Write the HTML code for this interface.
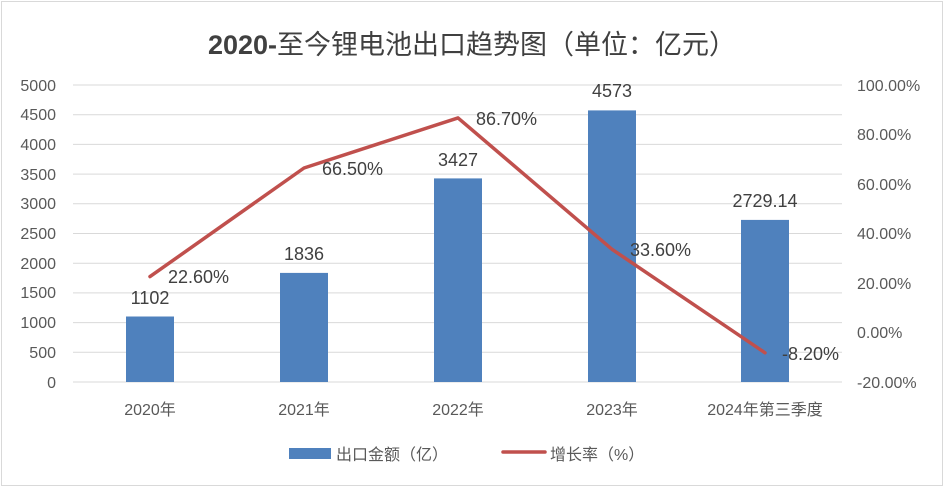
<!DOCTYPE html>
<html><head><meta charset="utf-8"><style>
html,body{margin:0;padding:0;background:#fff;}
svg{display:block;}
text{font-family:"Liberation Sans","Noto Sans CJK SC",sans-serif;}
</style></head><body>
<svg width="945" height="488" viewBox="0 0 945 488" xmlns="http://www.w3.org/2000/svg">
<rect x="1.5" y="1.5" width="941" height="484" fill="#fff" stroke="#d9d9d9" stroke-width="1"/>
<text x="472" y="54" text-anchor="middle" font-size="27" fill="#404040"><tspan font-weight="bold">2020-</tspan>至今锂电池出口趋势图（单位：亿元）</text>
<g stroke="#d9d9d9" stroke-width="1">
<line x1="73" x2="842" y1="85" y2="85"/>
<line x1="73" x2="842" y1="114.7" y2="114.7"/>
<line x1="73" x2="842" y1="144.4" y2="144.4"/>
<line x1="73" x2="842" y1="174.1" y2="174.1"/>
<line x1="73" x2="842" y1="203.8" y2="203.8"/>
<line x1="73" x2="842" y1="233.5" y2="233.5"/>
<line x1="73" x2="842" y1="263.2" y2="263.2"/>
<line x1="73" x2="842" y1="292.9" y2="292.9"/>
<line x1="73" x2="842" y1="322.6" y2="322.6"/>
<line x1="73" x2="842" y1="352.3" y2="352.3"/>
<line x1="73" x2="842" y1="382" y2="382"/>
</g>
<g font-size="16" fill="#595959" text-anchor="end">
<text x="56" y="91">5000</text><text x="56" y="120">4500</text><text x="56" y="150">4000</text>
<text x="56" y="180">3500</text><text x="56" y="209">3000</text><text x="56" y="239">2500</text>
<text x="56" y="269">2000</text><text x="56" y="298">1500</text><text x="56" y="328">1000</text>
<text x="56" y="358">500</text><text x="56" y="388">0</text>
</g>
<g font-size="16" fill="#595959" text-anchor="start">
<text x="857" y="91">100.00%</text><text x="857" y="140">80.00%</text><text x="857" y="190">60.00%</text>
<text x="857" y="239">40.00%</text><text x="857" y="289">20.00%</text><text x="857" y="338">0.00%</text>
<text x="857" y="388">-20.00%</text>
</g>
<g fill="#4f81bd">
<rect x="126" y="316.5" width="48" height="65.5"/>
<rect x="280" y="272.9" width="48" height="109.1"/>
<rect x="434" y="178.4" width="48" height="203.6"/>
<rect x="588" y="110.4" width="48" height="271.6"/>
<rect x="741" y="219.9" width="48" height="162.1"/>
</g>
<polyline points="150,276.6 304,168 458,117.9 612,249.3 765,352.8" fill="none" stroke="#c0504d" stroke-width="3.5" stroke-linejoin="round" stroke-linecap="round"/>
<g font-size="18" fill="#404040" text-anchor="middle">
<text x="150" y="304">1102</text><text x="304" y="260">1836</text><text x="458" y="166">3427</text>
<text x="612" y="97">4573</text><text x="765" y="207">2729.14</text>
</g>
<g font-size="18" fill="#404040">
<text x="168" y="283">22.60%</text><text x="322" y="175">66.50%</text><text x="476" y="125">86.70%</text>
<text x="630" y="256">33.60%</text><text x="782" y="360">-8.20%</text>
</g>
<g font-size="16" fill="#595959" text-anchor="middle">
<text x="150" y="415">2020年</text><text x="304" y="415">2021年</text><text x="458" y="415">2022年</text>
<text x="612" y="415">2023年</text><text x="765" y="415">2024年第三季度</text>
</g>
<rect x="289" y="448" width="42" height="11" fill="#4f81bd"/>
<text x="336" y="460" font-size="16" fill="#595959">出口金额（亿）</text>
<line x1="503" x2="545" y1="452" y2="452" stroke="#c0504d" stroke-width="3.5" stroke-linecap="round"/>
<text x="550" y="460" font-size="16" fill="#595959">增长率（%）</text>
</svg>
</body></html>
